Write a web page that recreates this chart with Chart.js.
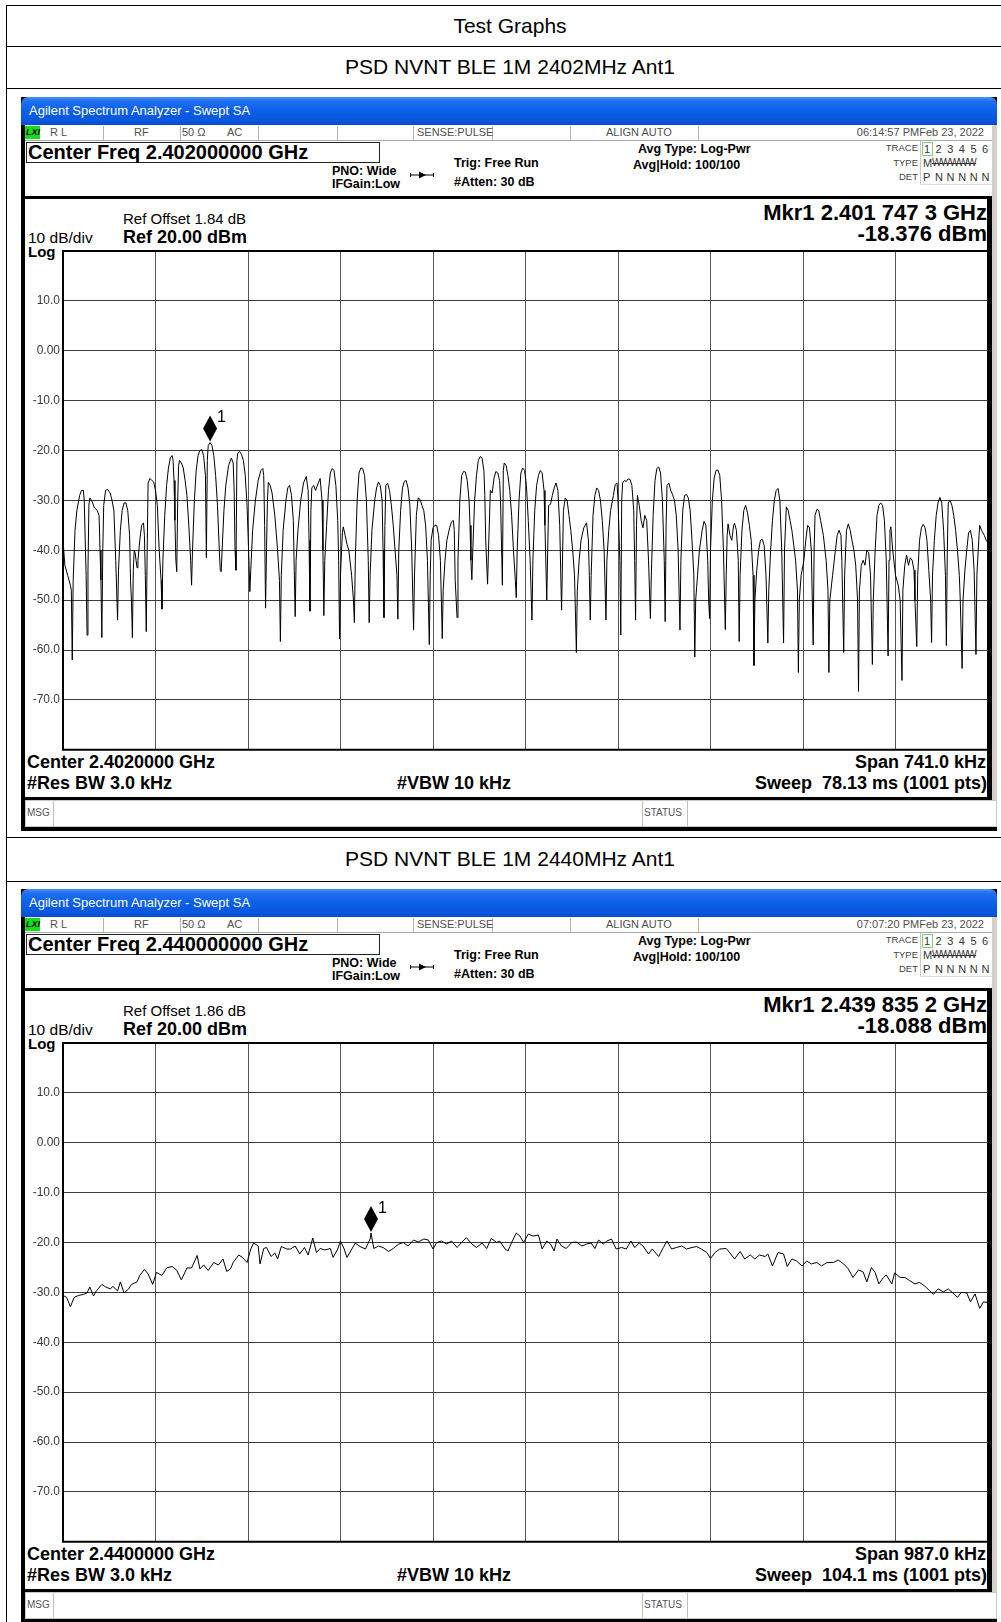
<!DOCTYPE html>
<html>
<head>
<meta charset="utf-8">
<script src="https://cdn.jsdelivr.net/npm/chart.js"></script>
<style>
  body { margin: 0; background: #fff; }
  #page { position: absolute; left: 0; top: 0; width: 1001px; height: 1622px; overflow: hidden;
          font-family: "Liberation Sans", Arial, sans-serif; color: #000; }
  .a { position: absolute; white-space: pre; }
  .b { position: absolute; box-sizing: border-box; }
  canvas { position: absolute; }
</style>
</head>
<body>
<div id="page"></div>
<script>
// titulos de la tabla
const rowTitles = ['Test Graphs', 'PSD NVNT BLE 1M 2402MHz Ant1', 'PSD NVNT BLE 1M 2440MHz Ant1'];

// eje Y (dBm), 10 dB/div
const yTicks = [10, 0, -10, -20, -30, -40, -50, -60, -70];
const yTickLabels = ['10.0', '0.00', '-10.0', '-20.0', '-30.0', '-40.0', '-50.0', '-60.0', '-70.0'];

// traza 2402 MHz: [punto del barrido (0..1000), dBm]
const trace2402 = [
  [0,-38],[2,-43],[5,-45],[8,-47],[9,-48],[10,-62],
  [11,-46],[13,-36],[15,-32],[18,-29],[20,-28],[22,-28],[23,-30],[24,-38],[25,-45],[26,-57],
  [27,-44],[28,-31],[29,-29.5],[31,-30],[34,-31.5],[37,-32],[39,-33],[40,-40],[41,-46],[42,-57.5],
  [43,-40],[44,-31],[46,-28],[48,-27.8],[51,-28.5],[53,-30],[55,-32],[57,-42],[58,-48],[59,-54],
  [60,-44],[62,-36],[64,-32],[66,-30.5],[68,-30.5],[70,-32],[72,-37],[73,-46],[74,-50],[75,-57.5],
  [76,-44],[77,-40],[78,-40.5],[79,-42],[80,-43.5],
  [81,-42],[83,-38],[85,-35],[87,-34.5],[88,-37],[89,-45],[90,-56.3],
  [91,-40],[92,-26.5],[94,-25.6],[96,-26],[98,-26.3],[100,-28],[102,-31],[104,-40],[106,-46],[107,-51.8],
  [108,-42],[110,-33],[112,-27],[114,-23.5],[116,-21.5],[118,-21],[119,-22],[120,-26],[121,-34],[122,-42],[123,-44.3],
  [124,-30],[125,-23],[126,-22],[128,-22.5],[130,-23.5],[132,-26],[134,-29],[136,-35],[138,-42],[139,-47],
  [140,-40],[142,-30],[144,-24],[146,-21],[148,-20],[150,-19.8],[152,-21],[154,-25],[155,-41.5],
  [156,-22],[157,-19],[159,-18.4],[161,-19],[163,-21],[165,-25],[167,-31],[169,-40],[170,-44],[171,-44.3],
  [172,-40],[174,-32],[176,-27],[179,-23],[182,-21.5],[184,-22.5],[185,-28],[186,-40],[187,-44],
  [188,-22],[189,-20.5],[191,-20.2],[193,-20.8],[195,-22],[197,-25],[199,-31],[201,-42],[202,-48.3],
  [203,-44],[205,-36],[208,-30],[211,-26],[214,-24],[216,-23.6],[217,-25],[218,-35],[219,-51.6],
  [220,-40],[221,-30],[222,-26.4],[224,-27],[226,-28.5],[229,-33],[232,-40],[234,-46],[235,-58.3],
  [236,-45],[238,-36],[241,-30],[243,-27.5],[245,-27],[247,-29],[249,-34],[250,-44],[251,-53.3],
  [252,-42],[254,-36],[257,-30],[260,-26.5],[263,-25.2],[265,-28],[266,-38],[267,-52.2],
  [268,-32],[269,-27.5],[271,-27],[273,-28],[276,-26.5],[278,-25.6],[280,-30],[281,-40],[282,-53.1],
  [283,-42],[285,-35],[287,-28],[289,-24.5],[291,-23.6],[293,-24],[295,-27],[297,-34],[298,-42],[299,-57.8],
  [300,-45],[302,-36.5],[303,-35.3],[305,-37],[307,-38.8],[309,-40],[312,-45],[314,-50],[315,-54.5],
  [316,-42],[318,-30],[320,-24.5],[322,-23.5],[324,-23.6],[326,-25],[328,-30],[330,-42],[331,-54.5],
  [332,-45],[334,-36],[337,-30],[339,-27.5],[341,-26.3],[343,-27],[345,-30],[346,-40],[347,-53.5],
  [348,-35],[349,-27],[351,-26.6],[353,-28],[355,-31],[357,-35],[359,-40],[361,-45],[362,-53.8],
  [363,-40],[365,-32],[367,-27.5],[369,-26.2],[371,-26],[373,-27.5],[375,-31],[377,-40],[379,-56],
  [380,-45],[382,-33],[384,-29.5],[386,-29.8],[388,-31],[390,-32],[392,-35],[394,-42],[396,-58.9],
  [397,-45],[398,-38],[400,-35.5],[402,-35],[404,-35],[406,-37],[408,-42],[410,-57.7],
  [411,-48],[413,-42],[415,-38],[418,-35.5],[420,-34.3],[422,-34],[423,-36],[424,-46],[426,-53.5],
  [427,-42],[429,-30],[431,-25],[433,-24.2],[435,-24.3],[437,-26],[439,-30],[440,-35],[441,-42],[442,-45.9],
  [443,-40],[445,-30],[447,-25],[449,-22],[451,-21.2],[453,-21.5],[455,-24],[456,-29],[457,-38],[459,-46.8],
  [460,-40],[462,-28],[464,-28.5],[466,-25.5],[468,-24.2],[470,-24.5],[472,-26],[473,-30],[475,-47],
  [476,-24],[477,-22.5],[479,-23],[481,-25],[483,-28],[485,-33],[487,-40],[489,-46],[490,-49.5],
  [491,-40],[493,-30],[495,-24.5],[497,-23.5],[499,-24],[501,-27],[503,-34],[505,-42],[507,-54],
  [508,-42],[510,-32],[512,-27],[514,-25],[516,-24],[518,-24.5],[520,-28],[521,-35],[523,-50],
  [524,-40],[525,-31],[527,-30.8],[529,-29],[531,-27.5],[533,-26.5],[535,-28],[537,-35],[539,-52],
  [540,-42],[541,-32],[543,-29.5],[545,-30],[547,-33],[549,-36],[551,-40],[553,-45],[555,-60.5],
  [556,-48],[558,-42],[560,-38],[563,-35.5],[566,-34.5],[568,-38],[569,-45],[570,-54],
  [571,-45],[573,-33],[575,-29],[577,-27.5],[579,-28],[581,-30],[583,-34],[585,-40],[587,-54],
  [588,-42],[590,-36],[592,-32],[595,-29],[597,-26.8],[599,-26.5],[600,-30],[602,-42],[603,-57],
  [604,-30],[605,-26.5],[607,-26],[609,-26.2],[611,-25.7],[613,-25.8],[615,-27],[617,-32],[618,-42],[619,-54],
  [620,-35],[621,-29],[623,-31],[625,-34],[627,-35.5],[629,-33],[631,-34],[633,-42],[635,-53.7],
  [636,-45],[638,-33],[640,-26],[642,-23.6],[644,-23.3],[646,-24.5],[648,-30],[650,-42],[651,-54.3],
  [652,-35],[653,-27],[655,-26.5],[657,-28],[659,-28.8],[661,-30],[663,-33],[665,-40],[667,-56],
  [668,-42],[670,-32],[672,-29],[674,-28.8],[676,-29.5],[678,-32],[680,-38],[682,-45],[683,-61.4],
  [684,-50],[686,-45],[688,-40],[691,-36],[693,-34.2],[695,-35],[697,-42],[698,-50],[699,-53.7],
  [700,-40],[702,-30],[704,-25.5],[706,-24],[708,-23.9],[710,-25],[712,-30],[714,-40],[716,-55.9],
  [717,-45],[718,-37],[719,-34.7],[721,-37],[723,-38],[725,-35],[726,-34.6],[728,-36],[730,-42],[731,-58.3],
  [732,-45],[734,-36],[736,-32],[738,-31],[740,-32.5],[742,-35],[744,-38],[746,-45],[747,-63.1],
  [748,-50],[750,-44],[752,-40],[754,-38],[756,-37.8],[758,-39],[760,-45],[762,-58.6],
  [763,-48],[765,-40],[767,-34],[769,-30],[771,-28],[773,-27.6],[775,-30],[777,-40],[779,-58.6],
  [780,-40],[782,-31.3],[784,-32],[786,-34],[788,-36],[790,-39],[792,-42],[794,-48],[795,-64.5],
  [796,-50],[798,-45],[801,-42],[803,-38],[805,-35],[807,-35.5],[809,-40],[811,-59],
  [812,-40],[813,-33],[815,-31.8],[817,-32],[819,-34],[822,-37],[825,-42],[827,-48],[828,-64.5],
  [829,-50],[832,-45],[835,-40],[837,-37],[839,-36],[841,-37],[842,-42],[844,-60.5],
  [845,-45],[847,-36],[849,-34.7],[851,-36],[853,-38],[855,-40],[857,-43],[859,-50],[860,-68.3],
  [861,-48],[863,-43],[865,-42],[867,-43],[869,-40],[871,-40.5],[873,-45],[875,-62.9],
  [876,-50],[878,-40],[880,-33],[882,-31],[884,-30.5],[886,-31],[888,-34],[890,-42],[892,-61.2],
  [893,-42],[894,-36],[895,-35.3],[897,-40],[900,-45],[903,-47],[905,-50],[907,-66.1],
  [908,-48],[910,-43],[912,-41],[914,-43],[916,-41.5],[918,-42],[920,-44],[921,-50],[923,-59.3],
  [924,-45],[926,-38],[928,-35.5],[930,-34.8],[932,-35.5],[934,-38],[936,-44],[938,-50],[939,-58.5],
  [940,-45],[942,-38],[944,-33],[946,-30.5],[948,-29.4],[950,-30.5],[952,-36],[954,-45],[955,-59.1],
  [956,-40],[957,-30.5],[959,-30],[961,-31],[963,-33],[965,-36],[967,-40],[969,-45],[970,-50],[972,-63.7],
  [973,-50],[975,-44],[977,-40],[979,-36.5],[981,-36],[983,-38],[985,-44],[987,-60.9],
  [988,-45],[990,-38],[991,-35],[993,-36],[996,-37],[998,-38],[1000,-38.5]
];

// traza 2440 MHz
const trace2440 = [
  [0,-30.6],[4,-31],[8,-32.9],[12,-31],[17,-30.6],[22,-30.4],[26,-30.1],[29,-28.9],[33,-30.7],[36,-29.7],
  [42,-28.4],[46,-28.9],[51,-29.3],[54,-28.8],[59,-29.7],[62,-27.9],[66,-30.1],[71,-29.3],[74,-28.4],[80,-27.9],
  [83,-26.6],[88,-25.4],[92,-26.3],[97,-28.4],[101,-26],[107,-26.6],[112,-25.1],[118,-24.8],[123,-25.6],[128,-27.5],
  [134,-25.1],[139,-25.1],[145,-22.6],[148,-25.3],[152,-24.5],[157,-25.6],[163,-24],[168,-24.5],[173,-23.3],[177,-25.8],
  [181,-25.3],[184,-24],[190,-22.5],[194,-23],[199,-24],[203,-21.3],[206,-20.1],[211,-20.7],[213,-24.3],[217,-21.2],
  [220,-21],[225,-22.8],[229,-22.1],[232,-23.3],[236,-20.8],[242,-21.3],[246,-21.3],[251,-20.7],[256,-22.3],[261,-21],
  [265,-22.5],[270,-19.1],[274,-22],[278,-21.2],[283,-21.5],[289,-21.2],[292,-23],[297,-21.3],[300,-19.7],[304,-21.3],
  [307,-23],[311,-21.7],[316,-20.1],[321,-20.8],[327,-21.3],[332,-19.3],[333,-18.1],[336,-21.2],[341,-20.7],[346,-21],
  [352,-21.8],[357,-21.2],[363,-20.3],[368,-20],[373,-20.7],[379,-19.5],[384,-19.9],[390,-19.3],[395,-19.5],[400,-21.3],
  [404,-20],[409,-19.7],[415,-20.3],[420,-19.7],[426,-21],[431,-20],[436,-19],[442,-20.3],[447,-21],[453,-20.1],
  [458,-21.2],[463,-19.2],[469,-20],[472,-19.7],[478,-21.3],[481,-21.7],[485,-20],[490,-18.1],[494,-18.7],[498,-20],
  [503,-18.3],[508,-18.7],[514,-18.5],[518,-21.3],[523,-19.7],[527,-20.3],[531,-21.7],[534,-19.3],[539,-20.7],[544,-21.2],
  [550,-20],[555,-19.9],[561,-20.7],[566,-20.3],[571,-20.1],[575,-21.2],[579,-19.5],[584,-20.3],[588,-19.7],[593,-19.3],
  [598,-21.3],[604,-21],[609,-21.3],[614,-19.7],[618,-21],[623,-20.1],[627,-20.7],[633,-22.3],[637,-21.3],[644,-22.8],
  [649,-21],[653,-19.7],[658,-21.3],[663,-21],[669,-20.7],[674,-21.3],[680,-21],[685,-20.8],[690,-21.3],[696,-22],
  [700,-23.2],[705,-22],[710,-21.3],[717,-21.2],[721,-22.1],[726,-23.3],[732,-21.8],[737,-23.3],[743,-22.5],[748,-23.3],
  [753,-22.5],[759,-22.8],[762,-22.3],[767,-24.7],[773,-22],[779,-22.3],[783,-24.8],[788,-23.3],[793,-23.7],[799,-24.7],
  [804,-23.7],[809,-24.3],[815,-24],[820,-24.7],[826,-24],[833,-24],[838,-23.5],[844,-24.3],[849,-25.3],[854,-27],
  [860,-25.5],[865,-25.9],[869,-27.9],[874,-25],[878,-26],[882,-28.3],[887,-27],[890,-26.5],[896,-28.3],[899,-26.1],
  [905,-27],[910,-27],[915,-27.6],[921,-28.3],[926,-28],[932,-28.8],[937,-29.7],[941,-30.4],[946,-29.3],[952,-29.9],
  [957,-29.3],[962,-30.1],[967,-31],[971,-30],[977,-30.1],[981,-31.9],[986,-30.3],[991,-33.2],[995,-31.9],[999,-32],[1000,-32]
];

// marcadores [punto, dBm]
const marker2402 = [159, -18.376];
const marker2440 = [333, -18.088];

const page = document.getElementById('page');

function box(x, y, w, h, css) {
  const d = document.createElement('div');
  d.className = 'b';
  d.style.cssText = `left:${x}px;top:${y}px;width:${w}px;height:${h}px;` + (css || '');
  page.appendChild(d);
  return d;
}

// texto centrado verticalmente en yc
function put(x, yc, text, css, right) {
  const d = document.createElement('div');
  d.className = 'a';
  d.textContent = text;
  const h = 26;
  const pos = right ? `right:${1001 - x}px;` : `left:${x}px;`;
  d.style.cssText = pos + `top:${yc - h / 2}px;height:${h}px;line-height:${h}px;` + (css || '');
  page.appendChild(d);
  return d;
}

// tabla exterior
box(6, 5, 1001, 1, 'background:#000');
box(6, 5, 1, 1617, 'background:#000');
[46, 88, 837, 881].forEach(y => box(6, y, 1001, 1, 'background:#000'));
put(6, 26, rowTitles[0], 'width:1008px;text-align:center;font-size:21px;');
put(6, 67, rowTitles[1], 'width:1008px;text-align:center;font-size:21px;');
put(6, 859, rowTitles[2], 'width:1008px;text-align:center;font-size:21px;');

const framePlugin = {
  id: 'frame',
  afterDraw(chart) {
    const { ctx, chartArea: a } = chart;
    ctx.save();
    ctx.strokeStyle = '#000';
    ctx.lineWidth = 2;
    ctx.beginPath();
    ctx.moveTo(a.right, a.top); ctx.lineTo(a.left, a.top);
    ctx.lineTo(a.left, a.bottom); ctx.lineTo(a.right, a.bottom);
    ctx.stroke();
    ctx.restore();
  }
};

function markerPlugin(marker) {
  return {
    id: 'mkr',
    afterDatasetsDraw(chart) {
      const ctx = chart.ctx;
      const x = chart.scales.x.getPixelForValue(marker[0]);
      const y = chart.scales.y.getPixelForValue(marker[1]);
      ctx.save();
      ctx.fillStyle = '#000';
      ctx.beginPath();
      ctx.moveTo(x, y - 1);
      ctx.lineTo(x + 7, y - 14);
      ctx.lineTo(x, y - 27);
      ctx.lineTo(x - 7, y - 14);
      ctx.closePath();
      ctx.fill();
      ctx.font = '16px "Liberation Sans", Arial';
      ctx.textBaseline = 'alphabetic';
      ctx.fillText('1', x + 7, y - 20);
      ctx.restore();
    }
  };
}

function analyzer(oy, info) {
  // marco
  box(21, 97 + oy, 976, 734, 'background:#000');
  box(21, 97 + oy, 976, 28, 'border-radius:7px 7px 0 0;background:linear-gradient(#4a95f6 0%,#1f6ff0 14%,#0c5fe8 50%,#0856de 85%,#0a4cc8 100%);');
  put(29, 111 + oy, 'Agilent Spectrum Analyzer - Swept SA', 'color:#fff;font-size:13px;');
  box(992, 125 + oy, 5, 702, 'background:#d4d0c8');

  // fila de estado
  box(25, 125 + oy, 967, 16, 'background:#fff;border-bottom:1px solid #a8a8a8');
  [103, 180, 258, 337, 413, 492, 570, 698].forEach(x => box(x, 126 + oy, 1, 14, 'background:#b4b4b4'));
  box(25, 126 + oy, 15, 13, 'background:#12e012');
  put(26, 132 + oy, 'LXI', 'font-size:9px;font-weight:bold;font-style:italic;');
  const st = 'font-size:11px;color:#505050;';
  put(50, 132 + oy, 'R L', st);
  put(134, 132 + oy, 'RF', st);
  put(182, 132 + oy, '50 Ω', st);
  put(227, 132 + oy, 'AC', st);
  put(417, 132 + oy, 'SENSE:PULSE', st);
  put(606, 132 + oy, 'ALIGN AUTO', st);
  put(984, 132 + oy, info.date, st, true);

  // cabecera
  box(25, 141 + oy, 967, 55, 'background:#fff');
  box(26, 142 + oy, 354, 21, 'border:1px solid #222');
  put(28, 152 + oy, info.centerFreq, 'font-size:20px;font-weight:bold;');
  const hb = 'font-size:12.5px;font-weight:bold;';
  put(332, 171 + oy, 'PNO: Wide', hb);
  put(332, 184 + oy, 'IFGain:Low', hb);
  const arrow = document.createElement('div');
  arrow.className = 'a';
  arrow.style.cssText = `left:409px;top:${166 + oy}px;`;
  arrow.innerHTML = '<svg width="26" height="10"><line x1="1" y1="5" x2="25" y2="5" stroke="#000" stroke-width="1"/>' +
    '<line x1="1.5" y1="3" x2="1.5" y2="7" stroke="#000"/><line x1="24.5" y1="3" x2="24.5" y2="7" stroke="#000"/>' +
    '<path d="M10 1.5 L17 5 L10 8.5 Z" fill="#000"/></svg>';
  page.appendChild(arrow);
  put(454, 163 + oy, 'Trig: Free Run', hb);
  put(454, 182 + oy, '#Atten: 30 dB', hb);
  put(638, 149 + oy, 'Avg Type: Log-Pwr', hb);
  put(633, 165 + oy, 'Avg|Hold: 100/100', hb);
  const tl = 'font-size:9.5px;color:#444;';
  put(918, 148 + oy, 'TRACE', tl, true);
  put(918, 163 + oy, 'TYPE', tl, true);
  put(918, 177 + oy, 'DET', tl, true);
  box(920, 141 + oy, 72, 44, 'border-left:1px solid #c8c8c8;border-bottom:1px solid #e0e0e0');
  box(922, 142 + oy, 11, 14, 'border:1px solid #7ccf7c');
  const tn = 'font-size:11px;color:#333;';
  ['1', '2', '3', '4', '5', '6'].forEach((t, i) => put(924 + i * 11.6, 149 + oy, t, tn));
  put(923, 163 + oy, 'M', tn);
  put(932, 163 + oy, 'WWWWW', tn + 'font-size:10px;letter-spacing:-0.6px;text-decoration:line-through;');
  put(923, 177 + oy, 'P', tn);
  ['N', 'N', 'N', 'N', 'N'].forEach((t, i) => put(935 + i * 11.6, 177 + oy, t, tn));

  // zona del grafico
  box(25, 199 + oy, 962, 598, 'background:#fff');
  put(123, 219 + oy, info.refOffset, 'font-size:15px;');
  put(123, 237 + oy, 'Ref 20.00 dBm', 'font-size:18px;font-weight:bold;');
  put(28, 238 + oy, '10 dB/div', 'font-size:15.5px;');
  put(28, 252 + oy, 'Log', 'font-size:15px;font-weight:bold;');
  put(987, 213 + oy, info.mkrFreq, 'font-size:22px;font-weight:bold;', true);
  put(987, 234 + oy, info.mkrLevel, 'font-size:22px;font-weight:bold;', true);
  const bb = 'font-size:18px;font-weight:bold;';
  put(27, 762 + oy, info.center, bb);
  put(27, 783 + oy, '#Res BW 3.0 kHz', bb);
  put(397, 783 + oy, '#VBW 10 kHz', bb);
  put(986, 762 + oy, info.span, bb, true);
  put(987, 783 + oy, info.sweep, bb, true);

  // fila MSG
  box(25, 800 + oy, 972, 27, 'background:#fff;border:1px solid #c8c8c8');
  box(53, 801 + oy, 1, 25, 'background:#c0c0c0');
  box(642, 801 + oy, 1, 25, 'background:#c0c0c0');
  box(687, 801 + oy, 1, 25, 'background:#c0c0c0');
  put(27, 813 + oy, 'MSG', 'font-size:10px;color:#555;');
  put(644, 813 + oy, 'STATUS', 'font-size:10px;color:#555;');

  // grafico
  const canvas = document.createElement('canvas');
  canvas.width = 963;
  canvas.height = 520;
  canvas.style.left = '25px';
  canvas.style.top = (240 + oy) + 'px';
  page.appendChild(canvas);

  new Chart(canvas.getContext('2d'), {
    type: 'line',
    data: {
      datasets: [{
        data: info.trace.map(p => ({ x: p[0], y: p[1] })),
        borderColor: '#000',
        borderWidth: 1,
        pointRadius: 0,
        tension: 0,
        fill: false
      }]
    },
    options: {
      responsive: false,
      animation: false,
      devicePixelRatio: 1,
      layout: { padding: { left: 0, top: 11, right: 0, bottom: 9 } },
      plugins: { legend: { display: false }, tooltip: { enabled: false } },
      scales: {
        x: {
          type: 'linear', min: 0, max: 1000,
          ticks: { display: false, stepSize: 100 },
          grid: { color: '#555', drawTicks: false },
          border: { display: false },
          afterFit(s) { s.height = 0; }
        },
        y: {
          min: -80, max: 20,
          ticks: {
            stepSize: 10, padding: 3, color: '#3a3a3a',
            font: { family: 'Liberation Sans', size: 12 },
            callback: v => { const i = yTicks.indexOf(v); return i < 0 ? '' : yTickLabels[i]; }
          },
          grid: { color: '#3c3c3c', drawTicks: false },
          border: { display: false },
          afterFit(s) { s.width = 38; }
        }
      }
    },
    plugins: [framePlugin, markerPlugin(info.marker)]
  });
}

analyzer(0, {
  date: '06:14:57 PMFeb 23, 2022',
  centerFreq: 'Center Freq 2.402000000 GHz',
  refOffset: 'Ref Offset 1.84 dB',
  mkrFreq: 'Mkr1 2.401 747 3 GHz',
  mkrLevel: '-18.376 dBm',
  center: 'Center 2.4020000 GHz',
  span: 'Span 741.0 kHz',
  sweep: 'Sweep  78.13 ms (1001 pts)',
  trace: trace2402,
  marker: marker2402
});

analyzer(792, {
  date: '07:07:20 PMFeb 23, 2022',
  centerFreq: 'Center Freq 2.440000000 GHz',
  refOffset: 'Ref Offset 1.86 dB',
  mkrFreq: 'Mkr1 2.439 835 2 GHz',
  mkrLevel: '-18.088 dBm',
  center: 'Center 2.4400000 GHz',
  span: 'Span 987.0 kHz',
  sweep: 'Sweep  104.1 ms (1001 pts)',
  trace: trace2440,
  marker: marker2440
});
</script>
</body>
</html>
